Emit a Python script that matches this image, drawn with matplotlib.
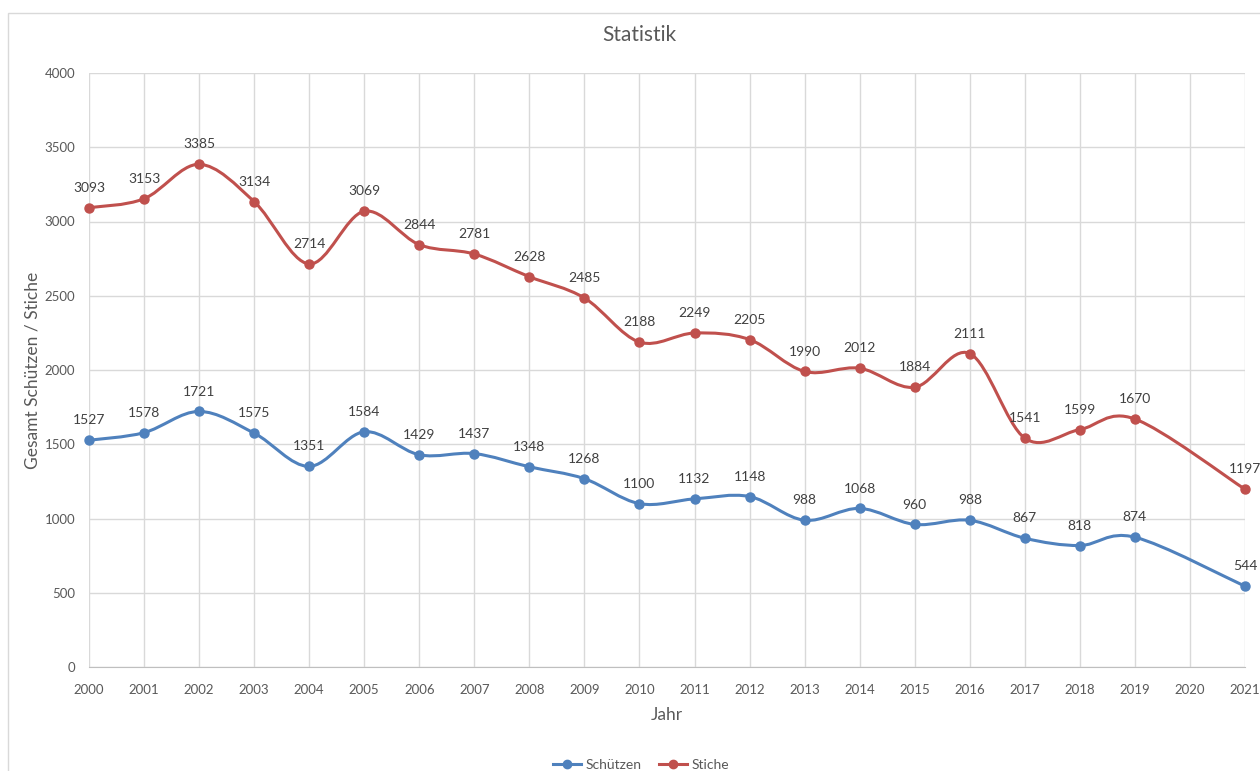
import matplotlib
matplotlib.use('Agg')
import matplotlib.pyplot as plt
from matplotlib.path import Path
from matplotlib.patches import PathPatch, Rectangle
from matplotlib.lines import Line2D
import numpy as np

plt.rcParams['font.family'] = ['Lato', 'DejaVu Sans']

# data (2020 has no value)
years = list(range(2000, 2022))
schuetzen = [1527, 1578, 1721, 1575, 1351, 1584, 1429, 1437, 1348, 1268, 1100,
             1132, 1148, 988, 1068, 960, 988, 867, 818, 874, None, 544]
stiche = [3093, 3153, 3385, 3134, 2714, 3069, 2844, 2781, 2628, 2485, 2188,
          2249, 2205, 1990, 2012, 1884, 2111, 1541, 1599, 1670, None, 1197]

blue = '#4F81BD'
red = '#C0504D'
txt = '#595959'


def smooth_path(x, y):
    # Excel-like smoothing: cubic bezier, control = P1 + (P2-P0)/6
    pts = np.column_stack([x, y]).astype(float)
    n = len(pts)
    verts = [pts[0]]
    codes = [Path.MOVETO]
    for i in range(n - 1):
        p0 = pts[max(i - 1, 0)]
        p1 = pts[i]
        p2 = pts[i + 1]
        p3 = pts[min(i + 2, n - 1)]
        c1 = p1 + (p2 - p0) / 6.0
        c2 = p2 - (p3 - p1) / 6.0
        verts += [c1, c2, p2]
        codes += [Path.CURVE4] * 3
    return Path(verts, codes)


fig = plt.figure(figsize=(12.6, 7.71), dpi=100)
ax = fig.add_axes([89 / 1260, 1 - 667 / 771, (1245 - 89) / 1260, (667 - 73) / 771])

# chart frame
fig.patches.append(Rectangle((8 / 1260, -0.02), 1.1, 1 - 13 / 771 + 0.02,
                             transform=fig.transFigure, fill=False,
                             edgecolor='#D9D9D9', linewidth=1))

for vals, col, name in [(schuetzen, blue, 'Schützen'), (stiche, red, 'Stiche')]:
    xs = [yr for yr, v in zip(years, vals) if v is not None]
    ys = [v for v in vals if v is not None]
    ax.add_patch(PathPatch(smooth_path(xs, ys), fill=False, edgecolor=col,
                           linewidth=2.2, capstyle='round', joinstyle='round',
                           zorder=3, clip_on=False))
    ax.plot(xs, ys, linestyle='none', marker='o', markersize=6.5, color=col,
            zorder=4, clip_on=False)
    for xv, yv in zip(xs, ys):
        ax.annotate(str(yv), (xv, yv), xytext=(0, 10), textcoords='offset points',
                    ha='center', va='bottom', fontsize=10, color='#404040')

ax.set_xlim(2000, 2021)
ax.set_ylim(0, 4000)
ax.set_xticks(years)
ax.set_yticks(range(0, 4001, 500))
ax.grid(True, color='#D9D9D9', linewidth=1)
ax.set_axisbelow(True)
for s in ['top', 'right', 'left']:
    ax.spines[s].set_visible(False)
ax.spines['bottom'].set_color('#BFBFBF')
ax.tick_params(length=0, labelsize=9.5, colors=txt)
ax.tick_params(axis='x', pad=12)
ax.tick_params(axis='y', pad=10)

ax.set_xlabel('Jahr', fontsize=12.5, color=txt, labelpad=8)
ax.set_ylabel('Gesamt Schützen / Stiche', fontsize=12.5, color=txt, labelpad=3)
fig.text(639 / 1260, 1 - 35 / 771, 'Statistik', ha='center', va='center',
         fontsize=15, color=txt)

handles = [Line2D([], [], color=blue, marker='o', markersize=6, linewidth=2.2),
           Line2D([], [], color=red, marker='o', markersize=6, linewidth=2.2)]
fig.legend(handles, ['Schützen', 'Stiche'], loc='center', ncol=2,
           bbox_to_anchor=(641 / 1260, 1 - 765 / 771), frameon=False,
           fontsize=10, labelcolor=txt, handlelength=2.0, handletextpad=0.3,
           columnspacing=1.3)

fig.savefig('out.png', dpi=100)
